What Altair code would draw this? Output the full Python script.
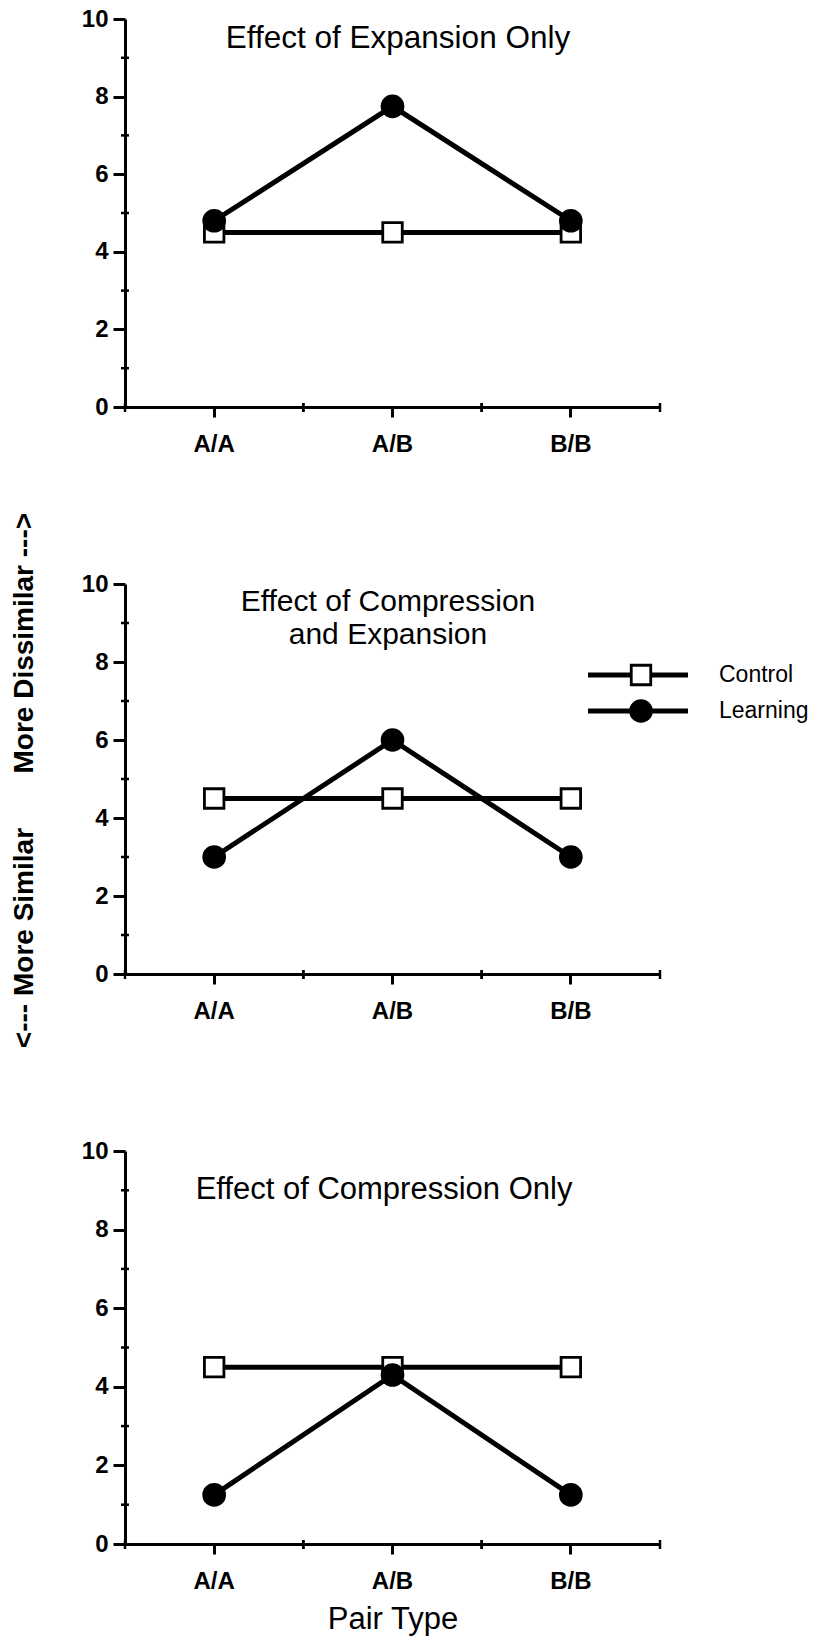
import altair as alt
import pandas as pd

# ---- data ----
categories = ["A/A", "A/B", "B/B"]
series_names = ["Control", "Learning"]

control_expansion = [4.5, 4.5, 4.5]
learning_expansion = [4.8, 7.75, 4.8]

control_both = [4.5, 4.5, 4.5]
learning_both = [3.0, 6.0, 3.0]

control_compression = [4.5, 4.5, 4.5]
learning_compression = [1.25, 4.3, 1.25]

titles_expansion = ["Effect of Expansion Only"]
titles_both = ["Effect of Compression", "and Expansion"]
titles_compression = ["Effect of Compression Only"]

y_major = [0, 2, 4, 6, 8, 10]
y_minor = [1, 3, 5, 7, 9]

x_title = "Pair Type"
y_title = "<--- More Similar" + "\u00a0" * 7 + "More Dissimilar --->"

# ---- styling ----
W = 535
FONT = "Liberation Sans"
LINE_W = 5


def x_scale():
    return alt.Scale(type="band", domain=categories, paddingInner=0, paddingOuter=0)


def y_scale():
    return alt.Scale(domain=[0, 10], nice=False, zero=True)


def panel(control, learning, title_lines, title_x, title_ys, title_size, H,
          legend=False, xtitle=None, ytitle=None):
    df = pd.DataFrame({
        "cat": categories * 2,
        "series": [series_names[0]] * 3 + [series_names[1]] * 3,
        "v": control + learning,
    })

    xaxis = alt.Axis(
        labelAngle=0, tickSize=10, tickWidth=3, domainWidth=3,
        labelFontSize=24, labelFontWeight="bold", labelPadding=15,
        bandPosition=0.5, title=xtitle, titleFontSize=31,
        titleFontWeight="normal", titlePadding=11,
    )
    yargs = dict(
        values=y_major, tickSize=12, tickWidth=3, domainWidth=3,
        labelFontSize=24, labelFontWeight="bold", labelPadding=5,
        grid=False, title=ytitle,
    )
    if ytitle:
        yargs.update(titleFontSize=28, titleFontWeight="bold", titleX=-101,
                     titleY=196, titleAlign="center", titleBaseline="middle",
                     titleAngle=270)
    yaxis = alt.Axis(**yargs)

    base = alt.Chart(df).encode(
        x=alt.X("cat:N", scale=x_scale(), axis=xaxis),
        y=alt.Y("v:Q", scale=y_scale(), axis=yaxis),
    )

    ctrl = base.transform_filter(alt.datum.series == series_names[0])
    lrn = base.transform_filter(alt.datum.series == series_names[1])

    layers = [
        ctrl.mark_line(color="black", strokeWidth=LINE_W),
        lrn.mark_line(color="black", strokeWidth=LINE_W),
        ctrl.mark_point(shape="square", filled=True, fill="white",
                        stroke="black", strokeWidth=2.8, size=380, opacity=1),
        lrn.mark_point(shape="circle", filled=True, color="black",
                       size=560, opacity=1),
    ]

    # minor ticks on the y axis
    layers.append(
        alt.Chart(pd.DataFrame({"v": y_minor})).mark_rule(
            color="black", strokeWidth=2.5
        ).encode(
            y=alt.Y("v:Q", scale=y_scale(), axis=yaxis),
            x=alt.value(-4), x2=alt.value(4),
        )
    )
    # minor ticks on the x axis (band edges)
    for bp in (0, 1):
        layers.append(
            alt.Chart(pd.DataFrame({"cat": categories})).mark_rule(
                color="black", strokeWidth=2.5
            ).encode(
                x=alt.X("cat:N", scale=x_scale(), bandPosition=bp, axis=xaxis),
                y=alt.value(H - 4), y2=alt.value(H + 5),
            )
        )

    # panel title(s)
    for line, ty in zip(title_lines, title_ys):
        layers.append(
            alt.Chart(alt.Data(values=[{"t": line}])).mark_text(
                font=FONT, fontSize=title_size, align="center",
                baseline="middle", color="black",
            ).encode(x=alt.value(title_x), y=alt.value(ty), text="t:N")
        )

    if legend:
        leg_y = [91, 127]
        shapes = [
            dict(shape="square", filled=True, fill="white", stroke="black",
                 strokeWidth=2.8, size=380, opacity=1),
            dict(shape="circle", filled=True, color="black", size=560,
                 opacity=1),
        ]
        for name, ly, shp in zip(series_names, leg_y, shapes):
            d = alt.Data(values=[{"s": name}])
            layers.append(
                alt.Chart(d).mark_rule(color="black", strokeWidth=LINE_W).encode(
                    x=alt.value(463), x2=alt.value(563), y=alt.value(ly)
                )
            )
            layers.append(
                alt.Chart(d).mark_point(**shp).encode(
                    x=alt.value(516), y=alt.value(ly)
                )
            )
            layers.append(
                alt.Chart(d).mark_text(
                    font=FONT, fontSize=23, align="left", baseline="middle",
                    color="black",
                ).encode(x=alt.value(594), y=alt.value(ly), text="s:N")
            )

    return alt.layer(*layers).properties(width=W, height=H)


p1 = panel(control_expansion, learning_expansion, titles_expansion, 273,
           [20], 31.5, 388)
p2 = panel(control_both, learning_both, titles_both, 263, [18, 51], 30, 390,
           legend=True, ytitle=y_title)
p3 = panel(control_compression, learning_compression, titles_compression, 259,
           [39], 31, 393, xtitle=x_title)

chart = alt.vconcat(p1, p2, p3, spacing=177, bounds="flush").properties(
    padding={"left": 9, "top": 7, "right": 5, "bottom": 5},
    background="white",
).configure_view(stroke=None).configure_axis(
    domainColor="black", tickColor="black", labelColor="black",
    titleColor="black", labelFont=FONT, titleFont=FONT,
)

chart.save("out.html", embed_options={"renderer": "svg", "actions": False})
